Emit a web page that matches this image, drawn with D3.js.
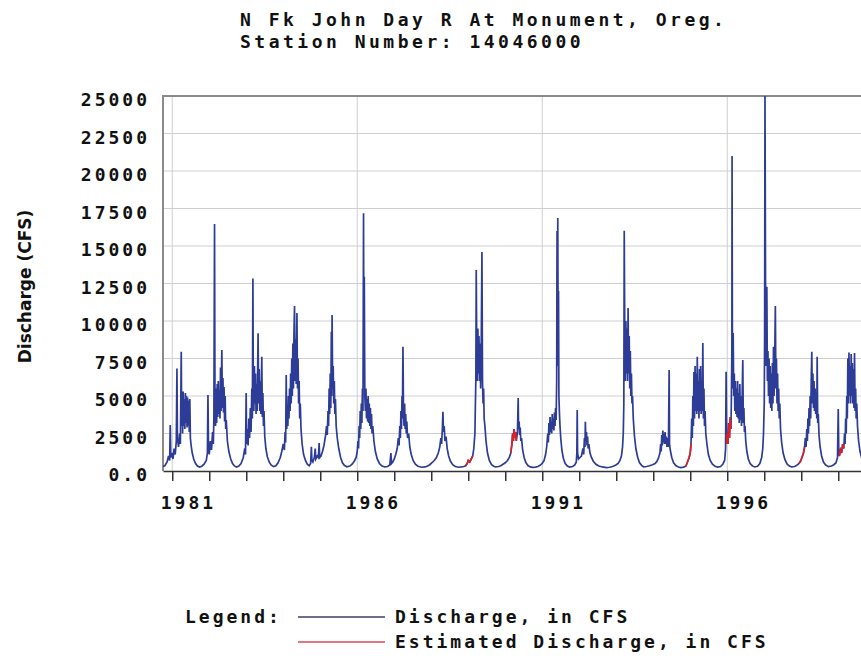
<!DOCTYPE html>
<html>
<head>
<meta charset="utf-8">
<script src="https://cdn.jsdelivr.net/npm/d3@7"></script>
<style>
body { margin: 0; background: #fff; }
.mono { font-family: "DejaVu Sans Mono", monospace; font-weight: bold; font-size: 18px; letter-spacing: 3px; fill: #111; }
.title { letter-spacing: 3.5px; }
.ytitle { font-family: "DejaVu Sans", sans-serif; font-weight: bold; font-size: 17px; fill: #111; }
</style>
</head>
<body>
<div id="chart"></div>
<script>
// chart texts
var titleLines = ["N Fk John Day R At Monument, Oreg.", "Station Number: 14046000"];
var yTitle = "Discharge (CFS)";
var legendItems = ["Discharge, in CFS", "Estimated Discharge, in CFS"];

// axis ticks
var yTicks = [0, 2500, 5000, 7500, 10000, 12500, 15000, 17500, 20000, 22500, 25000];
var yearTicks = [1981,1982,1983,1984,1985,1986,1987,1988,1989,1990,1991,1992,1993,1994,1995,1996,1997,1998,1999,2000];
var yearLabels = [1981, 1986, 1991, 1996];

// daily discharge, [decimal year, cfs]
var discharge = [
  // WY 1981
  [1980.75,300],[1980.80,350],[1980.86,600],[1980.90,1000],[1980.93,700],[1980.946,3070],[1980.96,900],[1980.99,1200],[1981.02,800],[1981.05,1500],[1981.08,1100],[1981.11,2000],[1981.127,6840],[1981.14,2200],[1981.17,1600],[1981.20,2500],[1981.22,1800],[1981.243,7950],[1981.255,3000],[1981.27,5000],[1981.28,2500],[1981.295,5300],[1981.31,3000],[1981.325,4800],[1981.34,2800],[1981.355,5200],[1981.37,3200],[1981.385,5000],[1981.40,2900],[1981.415,4900],[1981.43,3000],[1981.445,4700],[1981.46,2600],[1981.475,4800],[1981.49,2200],[1981.51,1700],[1981.54,1200],[1981.58,800],[1981.63,500],[1981.68,330],[1981.74,260],
  // WY 1982
  [1981.80,320],[1981.86,450],[1981.92,700],[1981.95,1200],[1981.965,5070],[1981.98,1500],[1982.00,1100],[1982.03,2000],[1982.06,1400],[1982.09,2600],[1982.11,1800],[1982.125,3500],[1982.143,16470],[1982.155,4500],[1982.17,3000],[1982.185,5500],[1982.20,3200],[1982.215,5800],[1982.23,3600],[1982.245,6000],[1982.26,3800],[1982.275,5400],[1982.29,3500],[1982.305,6900],[1982.32,4000],[1982.34,8070],[1982.355,4200],[1982.37,6200],[1982.385,3900],[1982.40,5600],[1982.415,3300],[1982.43,5000],[1982.445,2800],[1982.46,3400],[1982.49,2000],[1982.53,1300],[1982.58,800],[1982.63,500],[1982.68,340],[1982.74,270],
  // WY 1983
  [1982.80,330],[1982.86,500],[1982.92,900],[1982.96,1500],[1982.98,1100],[1982.998,5200],[1983.01,1800],[1983.03,2800],[1983.05,1700],[1983.07,3500],[1983.09,2200],[1983.11,4200],[1983.13,2600],[1983.15,5500],[1983.165,3500],[1983.18,12840],[1983.19,6000],[1983.205,4000],[1983.22,7000],[1983.235,4500],[1983.25,6500],[1983.265,3800],[1983.28,5800],[1983.295,4000],[1983.32,9180],[1983.335,4500],[1983.35,6800],[1983.365,4000],[1983.38,6000],[1983.395,3800],[1983.42,7620],[1983.435,3600],[1983.45,5200],[1983.465,3000],[1983.48,4000],[1983.50,2300],[1983.53,1500],[1983.57,950],[1983.62,600],[1983.67,400],[1983.74,290],
  // WY 1984
  [1983.80,350],[1983.86,550],[1983.92,900],[1983.96,1300],[1984.00,1800],[1984.03,1400],[1984.05,2600],[1984.065,1900],[1984.08,6400],[1984.095,2800],[1984.11,4200],[1984.125,3000],[1984.14,5000],[1984.155,3500],[1984.17,5500],[1984.185,4000],[1984.20,6500],[1984.215,4500],[1984.23,7500],[1984.245,5000],[1984.26,8500],[1984.275,5500],[1984.29,9200],[1984.305,11000],[1984.32,6000],[1984.335,8800],[1984.35,5800],[1984.37,10530],[1984.385,5500],[1984.40,7500],[1984.415,4500],[1984.43,6000],[1984.445,3500],[1984.46,4500],[1984.48,2800],[1984.51,1800],[1984.55,1100],[1984.60,700],[1984.65,450],[1984.70,350],
  // WY 1985
  [1984.74,500],[1984.76,1620],[1984.775,700],[1984.80,600],[1984.84,900],[1984.865,1500],[1984.88,800],[1984.92,1000],[1984.95,900],[1984.97,1870],[1984.985,900],[1985.02,1000],[1985.06,1300],[1985.10,1700],[1985.14,2300],[1985.17,3000],[1985.19,2400],[1985.21,4000],[1985.225,3000],[1985.24,5500],[1985.255,3800],[1985.27,6500],[1985.285,4200],[1985.30,9290],[1985.31,5000],[1985.32,10400],[1985.335,5500],[1985.35,7000],[1985.365,4500],[1985.38,6000],[1985.395,3800],[1985.41,4800],[1985.43,3000],[1985.46,2200],[1985.50,1500],[1985.55,900],[1985.60,550],[1985.65,380],[1985.72,280],
  // WY 1986
  [1985.80,330],[1985.86,450],[1985.92,650],[1985.97,900],[1986.00,1300],[1986.02,2000],[1986.035,1500],[1986.05,3000],[1986.065,2200],[1986.08,4000],[1986.095,2800],[1986.11,4500],[1986.125,3200],[1986.14,5500],[1986.155,4000],[1986.17,17180],[1986.18,6000],[1986.19,12950],[1986.205,5000],[1986.22,4000],[1986.235,5500],[1986.25,3500],[1986.265,4800],[1986.28,3300],[1986.295,5000],[1986.31,3200],[1986.325,4500],[1986.34,3000],[1986.355,4200],[1986.37,2800],[1986.385,3800],[1986.40,2500],[1986.42,3000],[1986.45,2000],[1986.49,1300],[1986.54,800],[1986.60,500],[1986.66,350],[1986.74,270],
  // WY 1987
  [1986.82,300],[1986.88,400],[1986.91,1200],[1986.925,500],[1986.96,600],[1987.00,800],[1987.04,1100],[1987.08,1500],[1987.11,2200],[1987.13,1700],[1987.15,3000],[1987.165,2200],[1987.18,4000],[1987.195,2800],[1987.21,5000],[1987.22,3500],[1987.235,8290],[1987.25,4000],[1987.265,3000],[1987.28,4500],[1987.295,2800],[1987.31,3800],[1987.325,2500],[1987.34,3300],[1987.36,2200],[1987.39,2500],[1987.42,1600],[1987.46,1100],[1987.51,700],[1987.57,450],[1987.64,320],[1987.74,250],
  // WY 1988
  [1987.83,270],[1987.90,330],[1987.96,420],[1988.02,550],[1988.08,700],[1988.14,900],[1988.19,1200],[1988.23,1600],[1988.26,2200],[1988.28,1800],[1988.30,2800],[1988.316,3950],[1988.33,2600],[1988.35,3000],[1988.37,2000],[1988.40,2300],[1988.43,1500],[1988.47,1000],[1988.52,650],[1988.58,420],[1988.65,300],[1988.74,250],
  // WY 1989
  [1988.82,270],[1988.88,300],[1988.93,350],[1988.97,500],[1989.00,700],[1989.04,600],[1989.08,800],[1989.12,1000],[1989.15,1500],[1989.18,2500],[1989.19,4000],[1989.205,6000],[1989.216,13400],[1989.23,8000],[1989.245,6000],[1989.26,9500],[1989.275,6500],[1989.29,9000],[1989.305,6000],[1989.32,8500],[1989.335,5500],[1989.35,8000],[1989.37,14600],[1989.385,6000],[1989.40,4500],[1989.415,5500],[1989.43,3500],[1989.45,3000],[1989.48,2000],[1989.52,1200],[1989.57,700],[1989.63,420],[1989.69,320],[1989.74,270],
  // WY 1990
  [1989.82,300],[1989.88,350],[1989.94,450],[1990.00,550],[1990.06,700],[1990.11,900],[1990.15,1200],[1990.18,1800],[1990.20,2500],[1990.22,2000],[1990.24,2800],[1990.26,2200],[1990.28,2600],[1990.30,2000],[1990.33,2600],[1990.35,4870],[1990.36,2800],[1990.375,3300],[1990.39,2400],[1990.405,2900],[1990.42,2000],[1990.44,2200],[1990.47,1400],[1990.51,900],[1990.56,550],[1990.62,350],[1990.68,270],[1990.74,240],
  // WY 1991
  [1990.82,260],[1990.88,300],[1990.94,380],[1991.00,500],[1991.05,700],[1991.09,1100],[1991.12,1600],[1991.15,2500],[1991.165,1900],[1991.18,3200],[1991.195,2400],[1991.21,3600],[1991.225,2600],[1991.24,3300],[1991.255,2500],[1991.27,3800],[1991.285,2800],[1991.30,3500],[1991.315,2700],[1991.33,3900],[1991.345,3000],[1991.36,4200],[1991.375,3400],[1991.39,6000],[1991.40,16000],[1991.41,8000],[1991.42,16870],[1991.43,7000],[1991.44,12000],[1991.45,5000],[1991.465,3800],[1991.48,3000],[1991.50,2200],[1991.53,1400],[1991.57,850],[1991.62,500],[1991.68,330],[1991.74,260],
  // WY 1992
  [1991.82,300],[1991.88,400],[1991.92,600],[1991.935,1200],[1991.945,4070],[1991.955,1200],[1991.98,800],[1992.02,900],[1992.06,1000],[1992.10,1500],[1992.12,1100],[1992.14,2200],[1992.155,1600],[1992.165,3290],[1992.18,2000],[1992.195,2600],[1992.21,1700],[1992.225,2300],[1992.24,1500],[1992.26,1800],[1992.29,1200],[1992.33,900],[1992.38,650],[1992.45,450],[1992.53,330],[1992.62,270],[1992.74,230],
  // WY 1993
  [1992.82,250],[1992.90,300],[1992.98,380],[1993.05,500],[1993.10,700],[1993.14,1000],[1993.17,1600],[1993.19,2500],[1993.205,4500],[1993.216,16020],[1993.23,9000],[1993.245,6000],[1993.26,10000],[1993.275,6500],[1993.29,9500],[1993.305,6000],[1993.32,10870],[1993.335,6500],[1993.35,9000],[1993.365,5500],[1993.38,8000],[1993.395,5000],[1993.41,6500],[1993.425,4500],[1993.44,5000],[1993.46,3500],[1993.49,2400],[1993.53,1500],[1993.58,900],[1993.63,550],[1993.69,360],[1993.74,280],
  // WY 1994
  [1993.82,300],[1993.90,350],[1993.98,420],[1994.05,500],[1994.10,650],[1994.14,850],[1994.18,1200],[1994.20,1800],[1994.215,1300],[1994.23,2400],[1994.245,1700],[1994.26,2700],[1994.275,1900],[1994.29,2500],[1994.305,1800],[1994.32,2600],[1994.335,1800],[1994.35,2300],[1994.37,1600],[1994.39,2200],[1994.41,1600],[1994.43,6730],[1994.44,1800],[1994.46,1400],[1994.50,900],[1994.55,550],[1994.61,360],[1994.68,270],[1994.74,230],
  // WY 1995
  [1994.82,260],[1994.88,320],[1994.91,500],[1994.94,700],[1994.97,900],[1995.00,1200],[1995.02,1800],[1995.04,3500],[1995.055,2200],[1995.07,5000],[1995.085,3000],[1995.10,6600],[1995.115,3500],[1995.13,7000],[1995.145,4000],[1995.16,6500],[1995.175,3800],[1995.19,7620],[1995.205,4000],[1995.22,6000],[1995.235,3500],[1995.25,6800],[1995.265,4000],[1995.28,7000],[1995.295,3800],[1995.31,6000],[1995.325,4000],[1995.34,8530],[1995.355,3500],[1995.37,5500],[1995.385,3000],[1995.40,4000],[1995.42,2500],[1995.45,1800],[1995.49,1100],[1995.54,700],[1995.60,450],[1995.67,320],[1995.74,260],
  // WY 1996
  [1995.82,300],[1995.88,450],[1995.93,700],[1995.955,1500],[1995.97,6620],[1995.985,1800],[1996.00,2500],[1996.02,1800],[1996.04,3200],[1996.06,2200],[1996.08,3600],[1996.10,2800],[1996.11,4500],[1996.125,8000],[1996.13,21000],[1996.14,7000],[1996.155,5500],[1996.16,9200],[1996.175,5000],[1996.19,6500],[1996.205,4000],[1996.22,6000],[1996.235,3800],[1996.25,5500],[1996.265,3600],[1996.28,6000],[1996.295,3500],[1996.31,5200],[1996.325,3200],[1996.34,5800],[1996.355,3400],[1996.37,5000],[1996.385,3000],[1996.40,4500],[1996.42,7400],[1996.435,3200],[1996.45,4200],[1996.465,2600],[1996.48,3000],[1996.50,2000],[1996.53,1300],[1996.57,800],[1996.62,500],[1996.68,340],[1996.74,270],
  // WY 1997
  [1996.82,320],[1996.88,500],[1996.93,900],[1996.96,1500],[1996.98,2500],[1997.00,4500],[1997.01,9000],[1997.02,25500],[1997.035,12000],[1997.05,7000],[1997.07,12290],[1997.085,6000],[1997.10,8000],[1997.115,5000],[1997.13,7500],[1997.145,4500],[1997.16,7000],[1997.175,4200],[1997.19,6500],[1997.205,4000],[1997.22,7200],[1997.235,4500],[1997.25,8290],[1997.265,5000],[1997.28,7000],[1997.30,11000],[1997.315,5500],[1997.33,7500],[1997.345,4500],[1997.36,6500],[1997.375,4000],[1997.39,5500],[1997.405,3500],[1997.42,4500],[1997.44,2800],[1997.47,1900],[1997.51,1200],[1997.56,750],[1997.62,450],[1997.68,330],[1997.74,270],
  // WY 1998
  [1997.82,300],[1997.88,380],[1997.94,500],[1997.98,650],[1998.02,900],[1998.06,1200],[1998.09,1600],[1998.11,2200],[1998.13,1600],[1998.15,2800],[1998.165,2000],[1998.18,3500],[1998.195,2500],[1998.21,4200],[1998.225,3000],[1998.24,5000],[1998.255,3500],[1998.27,6000],[1998.285,7950],[1998.30,4500],[1998.315,6500],[1998.33,4200],[1998.345,6000],[1998.36,4000],[1998.375,5500],[1998.39,3800],[1998.405,5000],[1998.42,3500],[1998.43,7620],[1998.445,3200],[1998.46,3800],[1998.48,2400],[1998.51,1600],[1998.55,1000],[1998.60,600],[1998.66,400],[1998.74,290],
  // WY 1999
  [1998.82,330],[1998.88,420],[1998.94,550],[1998.98,900],[1999.00,4130],[1999.015,1200],[1999.03,1000],[1999.06,1400],[1999.09,1200],[1999.12,1800],[1999.15,1500],[1999.17,2500],[1999.185,1800],[1999.20,3500],[1999.215,2500],[1999.23,5000],[1999.245,3500],[1999.26,7500],[1999.275,4500],[1999.29,7900],[1999.305,5000],[1999.32,7000],[1999.335,4500],[1999.35,7800],[1999.365,5000],[1999.38,7200],[1999.395,4500],[1999.41,6800],[1999.425,4200],[1999.44,7870],[1999.455,4000],[1999.47,5500],[1999.485,3500],[1999.50,4500],[1999.52,3000],[1999.55,2000],[1999.59,1300],[1999.64,800],[1999.70,500],[1999.75,350]
];

// periods where the record is estimated (drawn red)
var estimatedPeriods = [[1988.93,1989.12],[1990.15,1990.30],[1994.88,1995.02],[1995.985,1996.10],[1997.94,1998.09],[1999.03,1999.15]];

var svg = d3.select("#chart")
            .append("svg")
            .attr("width", 861)
            .attr("height", 668);

var margin = {top: 96, left: 163},
    width = 37 * 19.5,
    height = 375,
    g = svg.append("g").attr("transform", "translate(" + margin.left + "," + margin.top + ")");

var x = d3.scaleLinear().domain([1980.75, 2000.25]).range([0, width]),
    y = d3.scaleLinear().domain([0, 25000]).range([height, 0]);

// title
svg.selectAll(".title")
    .data(titleLines)
    .enter().append("text")
    .attr("class", "mono title")
    .attr("x", 240)
    .attr("y", function(d, i) { return 26 + i * 22; })
    .text(function(d) { return d; });

// grid
g.selectAll(".hgrid")
    .data(yTicks.slice(1))
    .enter().append("line")
    .attr("x1", 0).attr("x2", width)
    .attr("y1", y).attr("y2", y)
    .style("stroke", "#cfcfcf");

g.selectAll(".vgrid")
    .data(yearLabels)
    .enter().append("line")
    .attr("x1", x).attr("x2", x)
    .attr("y1", 0).attr("y2", height)
    .style("stroke", "#cfcfcf");

// frame (left and top)
g.append("path")
    .attr("d", "M0," + height + "V0H" + width)
    .style("fill", "none")
    .style("stroke", "#8a8a8a")
    .style("stroke-width", 2);

// data lines
g.append("clipPath").attr("id", "clip")
    .append("rect").attr("x", 0).attr("y", 0).attr("width", width).attr("height", height);

var line = d3.line()
    .x(function(d) { return x(d[0]); })
    .y(function(d) { return y(d[1]); });

g.append("path")
    .datum(discharge)
    .attr("clip-path", "url(#clip)")
    .attr("d", line)
    .style("fill", "none")
    .style("stroke", "#2d3c96")
    .style("stroke-width", 1.7);

g.selectAll(".est")
    .data(estimatedPeriods)
    .enter().append("path")
    .attr("d", function(p) {
        return line(discharge.filter(function(d) { return d[0] >= p[0] && d[0] <= p[1]; }));
    })
    .style("fill", "none")
    .style("stroke", "#e02020")
    .style("stroke-width", 1.6);

// x axis
var xAxis = g.append("g")
    .attr("transform", "translate(0," + height + ")")
    .call(d3.axisBottom(x)
        .tickValues(yearTicks)
        .tickSize(10)
        .tickSizeOuter(0)
        .tickFormat(function(d) { return yearLabels.indexOf(d) >= 0 ? d : ""; }));
xAxis.select(".domain").style("stroke", "#333").style("stroke-width", 1.5);
xAxis.selectAll(".tick line").style("stroke", "#333").style("stroke-width", 1.5);
xAxis.selectAll("text")
    .attr("class", "mono")
    .attr("y", 38)
    .attr("dy", 0)
    .attr("x", -12)
    .style("text-anchor", "start");

// y axis
var yAxis = g.append("g")
    .call(d3.axisLeft(y)
        .tickValues(yTicks)
        .tickSize(0)
        .tickPadding(13)
        .tickFormat(function(d) { return d === 0 ? "0.0" : d; }));
yAxis.select(".domain").remove();
yAxis.selectAll("text")
    .attr("class", "mono")
    .attr("dy", "0.55em");

// y axis title
svg.append("text")
    .attr("class", "ytitle")
    .attr("transform", "translate(31," + (margin.top + height / 2 + 3) + ") rotate(-90)")
    .style("text-anchor", "middle")
    .text(yTitle);

// legend
var legendColors = ["#3e3e5e", "#d84a5a"];
svg.append("text")
    .attr("class", "mono")
    .attr("x", 185)
    .attr("y", 623)
    .text("Legend:");

var legend = svg.selectAll(".legend")
    .data(legendItems)
    .enter().append("g")
    .attr("transform", function(d, i) { return "translate(0," + (623 + i * 25) + ")"; });

legend.append("line")
    .attr("x1", 298).attr("x2", 385)
    .attr("y1", -6).attr("y2", -6)
    .style("stroke", function(d, i) { return legendColors[i]; })
    .style("stroke-width", 1.3);

legend.append("text")
    .attr("class", "mono")
    .attr("x", 395)
    .text(function(d) { return d; });
</script>
</body>
</html>
